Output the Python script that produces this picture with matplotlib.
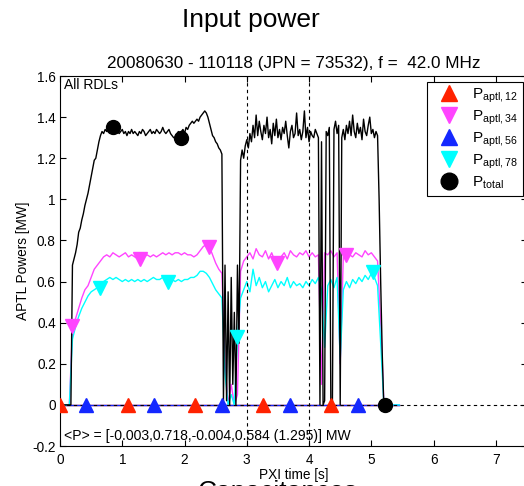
import numpy as np
import matplotlib
matplotlib.use("Agg")
import matplotlib.pyplot as plt
from matplotlib import ticker

plt.rcParams['font.family'] = ['Liberation Sans', 'DejaVu Sans']

# P_total, sampled every 0.025 s from t = 0
P_TOTAL = [
    0, 0, 0, 0, 0, 0, 0, 0, 0.68, 0.71,
    0.74, 0.78, 0.84, 0.86, 0.90, 0.93, 0.97, 1.00, 1.03, 1.07,
    1.11, 1.15, 1.19, 1.20, 1.24, 1.28, 1.31, 1.33, 1.32, 1.34,
    1.33, 1.35, 1.34, 1.32, 1.33, 1.35, 1.34, 1.33, 1.32, 1.33,
    1.34, 1.32, 1.33, 1.31, 1.33, 1.32, 1.34, 1.32, 1.33, 1.32,
    1.31, 1.33, 1.32, 1.34, 1.33, 1.31, 1.32, 1.33, 1.34, 1.32,
    1.33, 1.32, 1.34, 1.33, 1.32, 1.33, 1.35, 1.33, 1.32, 1.33,
    1.34, 1.32, 1.31, 1.30, 1.30, 1.31, 1.33, 1.32, 1.33, 1.34,
    1.32, 1.35, 1.34, 1.36, 1.37, 1.38, 1.37, 1.38, 1.39, 1.38,
    1.40, 1.41, 1.42, 1.43, 1.42, 1.40, 1.37, 1.34, 1.31, 1.30,
    1.28, 1.27, 1.25, 1.24, 1.22, 0.02, 0.68, 0.02, 0.55, 0.00,
    0.62, 0.10, 0.45, 0.00, 0.68, 0.30, 1.19, 1.24, 1.20, 1.26,
    1.29, 1.25, 1.32, 1.28, 1.36, 1.30, 1.41, 1.31, 1.38, 1.33,
    1.29, 1.36, 1.32, 1.40, 1.30, 1.34, 1.27, 1.37, 1.31, 1.39,
    1.30, 1.34, 1.29, 1.35, 1.32, 1.38, 1.31, 1.25, 1.33, 1.36,
    1.30, 1.32, 1.42, 1.31, 1.34, 1.29, 1.33, 1.43, 1.30, 1.35,
    1.28, 1.33, 1.31, 1.30, 1.34, 1.32, 1.30, 0.00, 1.28, 0.00,
    0.02, 1.33, 1.31, 1.35, 0.00, 0.01, 1.34, 1.38, 1.32, 1.36,
    0.00, 1.30, 1.34, 1.29, 1.36, 1.32, 1.38, 1.31, 1.41, 1.33,
    1.30, 1.37, 1.32, 1.35, 1.29, 1.39, 1.33, 1.31, 1.36, 1.40,
    1.32, 1.34, 1.30, 1.33, 1.31, 1.00, 0.60, 0.25, 0.00, 0.00,
    0.00,
]
DT_TOTAL = 0.025

# P_aptl,34 and P_aptl,78, sampled every 0.05 s from t = 0
P_34 = [
    0, 0, 0, 0, 0.37, 0.42, 0.47, 0.52, 0.56, 0.58,
    0.62, 0.66, 0.68, 0.70, 0.72, 0.73, 0.72, 0.74, 0.73, 0.72,
    0.73, 0.74, 0.72, 0.73, 0.72, 0.71, 0.71, 0.72, 0.73, 0.72,
    0.73, 0.72, 0.73, 0.74, 0.73, 0.74, 0.73, 0.74, 0.74, 0.73,
    0.74, 0.73, 0.73, 0.72, 0.73, 0.75, 0.77, 0.78, 0.77, 0.73,
    0.69, 0.66, 0.64, 0.20, 0.00, 0.10, 0.00, 0.05, 0.65, 0.70,
    0.72, 0.74, 0.71, 0.76, 0.73, 0.72, 0.75, 0.71, 0.74, 0.70,
    0.69, 0.72, 0.74, 0.71, 0.75, 0.73, 0.72, 0.74, 0.73, 0.75,
    0.72, 0.74, 0.72, 0.73, 0.10, 0.74, 0.73, 0.75, 0.72, 0.74,
    0.20, 0.72, 0.71, 0.73, 0.72, 0.74, 0.73, 0.72, 0.75, 0.73,
    0.74, 0.72, 0.70, 0.40, 0.02, 0, 0, 0, 0, 0,
]
P_78 = [
    0, 0, 0, 0, 0.32, 0.38, 0.43, 0.47, 0.50, 0.53,
    0.55, 0.56, 0.57, 0.58, 0.60, 0.61, 0.62, 0.61, 0.62, 0.61,
    0.60, 0.61, 0.60, 0.61, 0.60, 0.61, 0.60, 0.61, 0.60, 0.61,
    0.62, 0.61, 0.61, 0.62, 0.61, 0.60, 0.61, 0.60, 0.61, 0.60,
    0.61, 0.61, 0.62, 0.62, 0.63, 0.65, 0.65, 0.64, 0.62, 0.59,
    0.56, 0.54, 0.52, 0.15, 0.00, 0.05, 0.00, 0.33, 0.52, 0.56,
    0.60, 0.55, 0.66, 0.58, 0.62, 0.57, 0.60, 0.55, 0.58, 0.61,
    0.57, 0.60, 0.58, 0.62, 0.57, 0.60, 0.58, 0.59, 0.57, 0.60,
    0.58, 0.61, 0.59, 0.62, 0.56, 0.28, 0.58, 0.61, 0.57, 0.62,
    0.22, 0.56, 0.60, 0.57, 0.61, 0.59, 0.62, 0.60, 0.63, 0.61,
    0.64, 0.62, 0.58, 0.30, 0.01, 0, 0, 0, 0, 0,
]
DT_PAIR = 0.05

# P_aptl,12 and P_aptl,56 stay at zero over the pulse
T_ZERO = [0.0, 5.45]
P_12 = [0.0, 0.0]
P_56 = [0.0, 0.0]

# marker positions (time, value) as shown on the traces
MK12_T = [0.0, 1.09, 2.17, 3.26, 4.35]
MK12_Y = [0.0, 0.0, 0.0, 0.0, 0.0]
MK34_T = [0.19, 1.28, 2.39, 3.48, 4.60]
MK34_Y = [0.385, 0.71, 0.77, 0.69, 0.73]
MK56_T = [0.42, 1.51, 2.60, 3.69, 4.79]
MK56_Y = [0.0, 0.0, 0.0, 0.0, 0.0]
MK78_T = [0.64, 1.73, 2.84, 5.02]
MK78_Y = [0.57, 0.60, 0.33, 0.645]
MKTOT_T = [0.85, 1.95, 5.22]
MKTOT_Y = [1.35, 1.30, 0.0]

LABELS = [r'P$_{\mathregular{aptl,12}}$', r'P$_{\mathregular{aptl,34}}$',
          r'P$_{\mathregular{aptl,56}}$', r'P$_{\mathregular{aptl,78}}$',
          r'P$_{\mathregular{total}}$']
C_RED = '#ff2200'
C_MAG = '#ff44ff'
C_BLUE = '#1428ff'
C_CYAN = '#00ffff'

t_total = np.arange(len(P_TOTAL)) * DT_TOTAL
t_pair = np.arange(len(P_34)) * DT_PAIR

fig = plt.figure(figsize=(5.24, 4.86), dpi=100)
ax = fig.add_axes([60 / 524, 40 / 486, 467 / 524, 370 / 486])

ax.plot(T_ZERO, P_12, color=C_RED, lw=1.0)
ax.plot(t_pair, P_34, color=C_MAG, lw=1.0)
ax.plot(T_ZERO, P_56, color=C_BLUE, lw=1.0)
ax.plot(t_pair, P_78, color=C_CYAN, lw=1.0)
ax.plot(t_total, P_TOTAL, color='black', lw=1.0)

ax.axhline(0, color='black', ls=(0, (3, 3)), lw=0.8)
ax.axvline(3, color='black', ls=(0, (3, 3)), lw=0.8)
ax.axvline(4, color='black', ls=(0, (3, 3)), lw=0.8)

ms = 10
ax.plot(MK12_T, MK12_Y, ls='none', marker='^', ms=ms, color=C_RED, label=LABELS[0], zorder=5)
ax.plot(MK34_T, MK34_Y, ls='none', marker='v', ms=ms, color=C_MAG, label=LABELS[1], zorder=5)
ax.plot(MK56_T, MK56_Y, ls='none', marker='^', ms=ms, color=C_BLUE, label=LABELS[2], zorder=5)
ax.plot(MK78_T, MK78_Y, ls='none', marker='v', ms=ms, color=C_CYAN, label=LABELS[3], zorder=5)
ax.plot(MKTOT_T, MKTOT_Y, ls='none', marker='o', ms=ms, color='black', label=LABELS[4], zorder=5)

ax.set_xlim(0, 7.5)
ax.set_ylim(-0.2, 1.6)
ax.set_xticks(range(0, 8))
ax.set_yticks(np.round(np.arange(-0.2, 1.61, 0.2), 1))
ax.yaxis.set_major_formatter(ticker.FuncFormatter(lambda v, p: '%g' % round(v, 1)))
ax.tick_params(direction='in', top=True, right=True, length=4, labelsize=9.8)
ax.tick_params(axis='x', pad=5)
ax.tick_params(axis='y', pad=3)
for s in ax.spines.values():
    s.set_linewidth(0.8)

ax.set_xlabel('PXI time [s]', fontsize=9.8, labelpad=1)
ax.set_ylabel('APTL Powers [MW]', fontsize=9.8, labelpad=2)
ax.set_title('20080630 - 110118 (JPN = 73532), f =  42.0 MHz', fontsize=12.3, pad=6)

ax.text(0.008, 0.995, 'All RDLs', transform=ax.transAxes, fontsize=10, va='top', ha='left')
ax.text(0.008, 0.008, '<P> = [-0.003,0.718,-0.004,0.584 (1.295)] MW',
        transform=ax.transAxes, fontsize=10.1, va='bottom', ha='left')

leg = ax.legend(loc='upper right', bbox_to_anchor=(523 / 524, 1 - 82 / 486),
                bbox_transform=fig.transFigure, fontsize=11, frameon=True,
                fancybox=False, edgecolor='black', framealpha=1,
                labelspacing=0.22, handletextpad=0.45, borderpad=0.3,
                borderaxespad=0, handlelength=2.2, markerscale=1.2)
leg.get_frame().set_linewidth(0.8)

fig.text(251 / 524, 1 - 20 / 486, 'Input power', fontsize=19, ha='center', va='center')
fig.text(278 / 524, 1 - 480 / 486, 'Capacitances', fontsize=19, ha='center', va='top')

fig.savefig('out.png', dpi=100)
